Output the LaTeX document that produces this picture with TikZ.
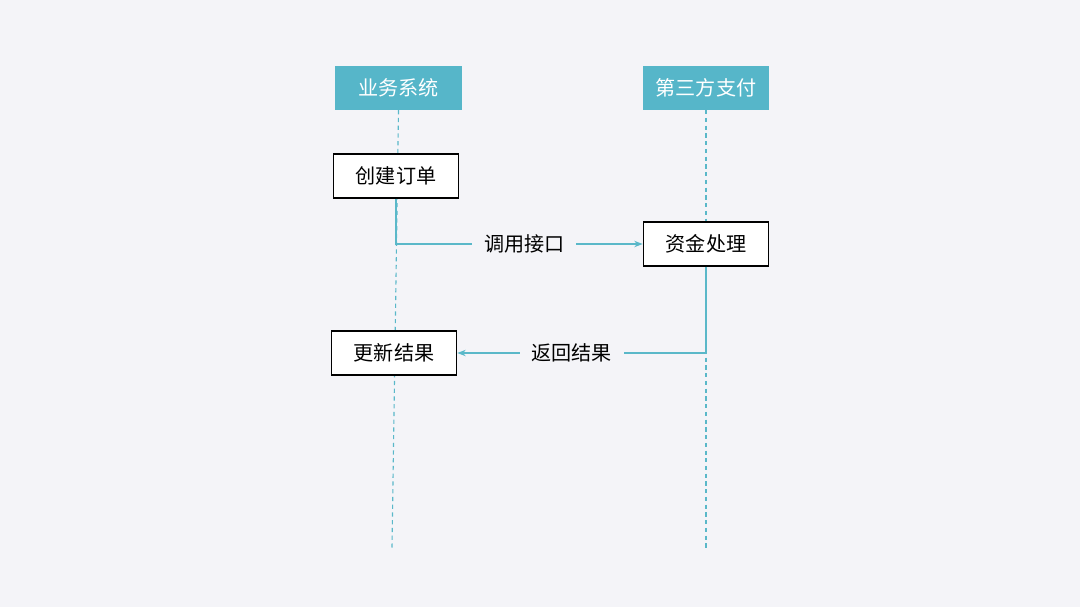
\documentclass[tikz,border=0pt]{standalone}
\usepackage{fontspec}
\setmainfont{Noto Sans CJK SC}
\usetikzlibrary{arrows.meta}
\definecolor{bgpaper}{HTML}{F4F4F8}
\definecolor{headteal}{HTML}{56B6C9}
\definecolor{lineteal}{HTML}{5AB8C9}
\tikzstyle{headbox}=[rectangle,minimum width=90pt,minimum height=31.2pt,inner sep=0,fill=headteal,text=white,font=\fontsize{14.3}{16}\selectfont]
\tikzstyle{stepbox}=[rectangle,minimum width=89pt,minimum height=31.2pt,inner sep=0,draw=black,line width=1pt,fill=white,font=\fontsize{14.3}{16}\selectfont]
\tikzstyle{lifeline}=[lineteal,line width=0.8pt,dash pattern=on 3pt off 2.5pt]
\tikzstyle{arrow}=[lineteal,line width=1pt,-{Stealth[length=6pt,width=4.5pt]}]
\tikzstyle{msglabel}=[fill=bgpaper,text=black,inner xsep=8.5pt,font=\fontsize{14.3}{16}\selectfont]
\pgfdeclarelayer{background}
\pgfsetlayers{background,main}
\begin{document}
\begin{tikzpicture}[x=0.025cm,y=-0.025cm]
\useasboundingbox (0,0) rectangle (1080,607);

% heads
\node[headbox] (sys) at (398.5,88) {业务系统};
\node[headbox] (third) at (706,88) {第三方支付};
\coordinate (sysend) at (392,548);
\coordinate (thirdend) at (706,548);

% steps
\node[stepbox] (order) at (396,176) {创建订单};
\node[stepbox] (pay) at (706,244) {资金处理};
\node[stepbox] (update) at (394,353) {更新结果};

% paper and lifelines behind the boxes
\begin{pgfonlayer}{background}
\fill[bgpaper] (0,0) rectangle (1080,607);
\draw[lifeline] (sys.south) -- (sysend);
\draw[lifeline] (third.south) -- (thirdend);
\end{pgfonlayer}

% messages
\draw[arrow] (order.south) |- (pay.west) node[msglabel,pos=0.76] (call) {调用接口};
\draw[arrow] (pay.south) |- (update.east) node[msglabel,pos=0.77] (back) {返回结果};
\end{tikzpicture}
\end{document}
